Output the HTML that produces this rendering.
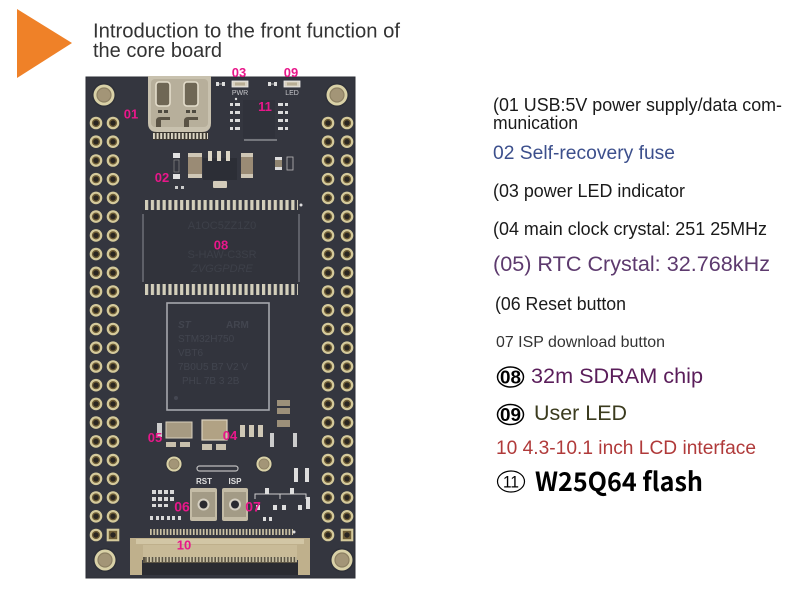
<!DOCTYPE html>
<html>
<head>
<meta charset="utf-8">
<style>
html,body{margin:0;padding:0;background:#fff;}
svg{display:block;}
text{font-family:"Liberation Sans",Arial,sans-serif;}
</style>
</head>
<body>
<svg width="790" height="600" viewBox="0 0 790 600" xmlns="http://www.w3.org/2000/svg">
<defs>
  <g id="pin">
    <circle r="6.3" fill="#d5ca9b"/>
    <circle r="4.1" fill="#6e5d36"/>
    <circle r="2.7" fill="#2a2622"/>
  </g>
  <g id="sqpin">
    <rect x="-6.3" y="-6.3" width="12.6" height="12.6" fill="#d5ca9b"/>
    <rect x="-4.2" y="-4.2" width="8.4" height="8.4" fill="#6e5d36"/>
    <circle r="2.7" fill="#2a2622"/>
  </g>
  <g id="mh">
    <circle r="12" fill="#2e3038"/>
    <circle r="10.5" fill="#d9d1a7"/>
    <circle r="7.6" fill="#8d8063"/>
    <circle r="6.4" fill="#a39577"/>
  </g>
  <g id="col">
    <use href="#pin" y="123"/><use href="#pin" y="141.7"/><use href="#pin" y="160.5"/>
    <use href="#pin" y="179.2"/><use href="#pin" y="197.9"/><use href="#pin" y="216.6"/>
    <use href="#pin" y="235.4"/><use href="#pin" y="254.1"/><use href="#pin" y="272.8"/>
    <use href="#pin" y="291.5"/><use href="#pin" y="310.3"/><use href="#pin" y="329"/>
    <use href="#pin" y="347.7"/><use href="#pin" y="366.5"/><use href="#pin" y="385.2"/>
    <use href="#pin" y="403.9"/><use href="#pin" y="422.6"/><use href="#pin" y="441.4"/>
    <use href="#pin" y="460.1"/><use href="#pin" y="478.8"/><use href="#pin" y="497.5"/>
    <use href="#pin" y="516.3"/>
  </g>
  <pattern id="sdp" x="145" y="0" width="5.85" height="20" patternUnits="userSpaceOnUse">
    <rect x="0" y="0" width="3.2" height="20" fill="#d3cfbb"/>
  </pattern>
  <pattern id="fpcp" x="150" y="0" width="3.3" height="20" patternUnits="userSpaceOnUse">
    <rect x="0" y="0" width="1.7" height="20" fill="#cdc4a6"/>
  </pattern>
  <pattern id="usbp" x="153" y="0" width="3.6" height="20" patternUnits="userSpaceOnUse">
    <rect x="0" y="0" width="2" height="20" fill="#dcd6c4"/>
  </pattern>
</defs>

<rect width="790" height="600" fill="#fff"/>

<!-- orange triangle -->
<polygon points="17,9 17,78 72,43" fill="#ef8128"/>

<!-- title -->
<text x="93" y="37.5" font-size="20" fill="#333" textLength="307" lengthAdjust="spacingAndGlyphs">Introduction to the front function of</text>
<text x="93" y="57" font-size="20" fill="#333">the core board</text>

<!-- ============ BOARD ============ -->
<rect x="86" y="77" width="269" height="501" fill="#34363f"/>
<rect x="86" y="77" width="269" height="501" fill="none" stroke="#2b2d35" stroke-width="1"/>

<!-- pin headers -->
<use href="#col" x="96"/>
<use href="#col" x="113"/>
<use href="#col" x="328"/>
<use href="#col" x="347"/>
<use href="#pin" x="96" y="535"/>
<use href="#sqpin" x="113" y="535"/>
<use href="#pin" x="328" y="535"/>
<use href="#sqpin" x="347" y="535"/>

<!-- mounting holes -->
<use href="#mh" x="104" y="95"/>
<use href="#mh" x="337" y="95"/>
<use href="#mh" x="105" y="560"/>
<use href="#mh" x="342" y="560"/>
<g transform="translate(174,464) scale(0.72)"><use href="#mh"/></g>
<g transform="translate(264,464) scale(0.72)"><use href="#mh"/></g>

<!-- USB-C -->
<path d="M148,76 H211 V123 Q211,132 202,132 H157 Q148,132 148,123 Z" fill="#c8c1ae"/>
<rect x="151" y="79" width="57" height="48" rx="4" fill="#b7af9b"/>
<rect x="156" y="82" width="14" height="24" rx="3" fill="#6f6755" stroke="#e4ddcb" stroke-width="1.6"/>
<rect x="184" y="82" width="14" height="24" rx="3" fill="#6f6755" stroke="#e4ddcb" stroke-width="1.6"/>
<rect x="158" y="110" width="4" height="3" fill="#4e4a40"/>
<rect x="164" y="110" width="4" height="3" fill="#4e4a40"/>
<rect x="186" y="110" width="4" height="3" fill="#4e4a40"/>
<rect x="192" y="110" width="4" height="3" fill="#4e4a40"/>
<path d="M156,127 V121 Q156,117 160,117 H170 V120 H161 V127 Z" fill="#5a5345"/>
<path d="M184,127 V121 Q184,117 188,117 H198 V120 H189 V127 Z" fill="#5a5345"/>
<rect x="153" y="132" width="55" height="8" fill="#3a3630"/>
<rect x="153" y="133" width="55" height="6" fill="url(#usbp)"/>

<!-- LED 03 / 09 -->
<rect x="216" y="82" width="3" height="4" fill="#ddd"/><rect x="222" y="82" width="3" height="4" fill="#ddd"/>
<rect x="219" y="83.5" width="3" height="1" fill="#aaa"/>
<rect x="232" y="81" width="16" height="6" fill="#d9d2c2" stroke="#eee" stroke-width="0.8"/>
<rect x="235" y="82.5" width="10" height="3" fill="#b8ad94"/>
<text x="240" y="95" font-size="7" fill="#c8c8cc" text-anchor="middle">PWR</text>
<circle cx="236" cy="99" r="1.2" fill="#ddd"/>
<rect x="268" y="82" width="3" height="4" fill="#ddd"/><rect x="274" y="82" width="3" height="4" fill="#ddd"/>
<rect x="271" y="83.5" width="3" height="1" fill="#aaa"/>
<rect x="284" y="81" width="16" height="6" fill="#d9d2c2" stroke="#eee" stroke-width="0.8"/>
<rect x="287" y="82.5" width="10" height="3" fill="#b8ad94"/>
<text x="292" y="95" font-size="7" fill="#c8c8cc" text-anchor="middle">LED</text>

<!-- flash chip 11 -->
<rect x="243" y="100" width="32" height="38" fill="#30323b"/>
<g fill="#dcdcdc">
  <rect x="230" y="103" width="3" height="3"/><rect x="235" y="103" width="5" height="3"/>
  <rect x="230" y="111" width="3" height="3"/><rect x="235" y="111" width="5" height="3"/>
  <rect x="230" y="119" width="3" height="3"/><rect x="235" y="119" width="5" height="3"/>
  <rect x="230" y="127" width="3" height="3"/><rect x="235" y="127" width="5" height="3"/>
  <rect x="278" y="103" width="5" height="3"/><rect x="285" y="103" width="3" height="3"/>
  <rect x="278" y="111" width="5" height="3"/><rect x="285" y="111" width="3" height="3"/>
  <rect x="278" y="119" width="5" height="3"/><rect x="285" y="119" width="3" height="3"/>
  <rect x="278" y="127" width="5" height="3"/><rect x="285" y="127" width="3" height="3"/>
</g>
<line x1="244" y1="140" x2="277" y2="140" stroke="#b5b5b8" stroke-width="1"/>

<!-- regulator / fuse area 02 -->
<rect x="173" y="153" width="7" height="5" fill="#e2e2e2"/>
<rect x="173" y="174" width="7" height="5" fill="#e2e2e2"/>
<rect x="174" y="160" width="5" height="12" fill="none" stroke="#888" stroke-width="0.7"/>
<rect x="175" y="186" width="3" height="3" fill="#ccc"/><rect x="181" y="186" width="3" height="3" fill="#ccc"/>
<rect x="188" y="153" width="14" height="25" rx="1.5" fill="#9a8b75"/>
<rect x="188" y="153" width="14" height="4" fill="#cfc7b6"/><rect x="188" y="174" width="14" height="4" fill="#cfc7b6"/>
<rect x="203" y="158" width="34" height="22" fill="#2c2e36"/>
<rect x="208" y="151" width="4" height="10" fill="#dcd6c6"/>
<rect x="217" y="151" width="4" height="10" fill="#dcd6c6"/>
<rect x="226" y="151" width="4" height="10" fill="#dcd6c6"/>
<rect x="213" y="181" width="14" height="7" rx="1" fill="#d3ccbb"/>
<rect x="241" y="153" width="12" height="25" rx="1.5" fill="#9a8b75"/>
<rect x="241" y="153" width="12" height="4" fill="#cfc7b6"/><rect x="241" y="174" width="12" height="4" fill="#cfc7b6"/>
<rect x="275" y="157" width="7" height="13" fill="#8f8470"/>
<rect x="275" y="157" width="7" height="3" fill="#ddd"/><rect x="275" y="167" width="7" height="3" fill="#ddd"/>
<rect x="287" y="157" width="6" height="13" fill="none" stroke="#bbb" stroke-width="0.8"/>

<!-- SDRAM 08 -->
<rect x="145" y="200" width="153" height="10" fill="url(#sdp)"/>
<rect x="142" y="210" width="158" height="74" fill="#31333b"/>
<line x1="143" y1="214" x2="143" y2="282" stroke="#8b8d96" stroke-width="1"/>
<line x1="299" y1="214" x2="299" y2="282" stroke="#8b8d96" stroke-width="1"/>
<rect x="145" y="284" width="153" height="11" fill="url(#sdp)"/>
<circle cx="301" cy="205" r="1.5" fill="#ddd"/>
<g font-size="11" fill="#3d4049" text-anchor="middle">
  <text x="222" y="229">A1OC5ZZ1Z0</text>
  <text x="222" y="258">S-HAW-C3SR</text>
  <text x="222" y="272" font-style="italic">ZVGGPDRE</text>
</g>

<!-- MCU -->
<rect x="167" y="303" width="102" height="107" fill="#32343d" stroke="#a6a7ad" stroke-width="1.6"/>
<g font-size="10" fill="#42454f">
  <text x="178" y="328" font-weight="bold" font-style="italic">ST</text>
  <text x="226" y="328" font-weight="bold">ARM</text>
  <text x="178" y="342">STM32H750</text>
  <text x="178" y="356">VBT6</text>
  <text x="178" y="370">7B0U5 B7 V2 V</text>
  <text x="182" y="384">PHL 7B 3 2B</text>
</g>
<circle cx="176" cy="398" r="2" fill="#444752"/>

<!-- components right of MCU -->
<rect x="277" y="400" width="13" height="6" fill="#9c907a"/><rect x="277" y="408" width="13" height="6" fill="#9c907a"/>
<rect x="277" y="420" width="13" height="7" fill="#9c907a"/>
<rect x="270" y="433" width="4" height="14" fill="#ccc"/><rect x="293" y="433" width="4" height="14" fill="#ccc"/>

<!-- crystals 05 & 04 -->
<rect x="157" y="423" width="5" height="14" fill="#ccc"/>
<rect x="166" y="422" width="26" height="16" fill="#a69a82" stroke="#d8d0bd" stroke-width="1"/>
<rect x="166" y="442" width="10" height="5" fill="#c8c0ad"/><rect x="180" y="442" width="10" height="5" fill="#c8c0ad"/>
<rect x="202" y="420" width="25" height="20" fill="#b1a284" stroke="#dcd3bf" stroke-width="1.2"/>
<rect x="202" y="444" width="10" height="6" fill="#c8c0ad"/><rect x="216" y="444" width="10" height="6" fill="#c8c0ad"/>
<rect x="240" y="425" width="5" height="12" fill="#cfc8b6"/><rect x="249" y="425" width="5" height="12" fill="#cfc8b6"/><rect x="258" y="425" width="5" height="12" fill="#cfc8b6"/>

<!-- slot + silkscreen -->
<rect x="197" y="466" width="41" height="5" rx="2.5" fill="none" stroke="#bdbdbd" stroke-width="1.2"/>
<text x="204" y="484" font-size="8" font-weight="bold" fill="#e0e0e0" text-anchor="middle">RST</text>
<text x="235" y="484" font-size="8" font-weight="bold" fill="#e0e0e0" text-anchor="middle">ISP</text>

<!-- buttons -->
<rect x="190" y="488" width="27" height="33" rx="2" fill="#c4bca6"/>
<rect x="192" y="492" width="23" height="25" fill="#a39b86"/>
<circle cx="203.5" cy="504.5" r="6" fill="#d6d0c2"/><circle cx="203.5" cy="504.5" r="4" fill="#2a2a30"/>
<rect x="222" y="488" width="26" height="33" rx="2" fill="#c4bca6"/>
<rect x="224" y="492" width="22" height="25" fill="#a39b86"/>
<circle cx="235" cy="504.5" r="6" fill="#d6d0c2"/><circle cx="235" cy="504.5" r="4" fill="#2a2a30"/>

<!-- small parts left of buttons -->
<g fill="#d8d8d8">
  <rect x="152" y="490" width="4" height="4"/><rect x="158" y="490" width="4" height="4"/><rect x="164" y="490" width="4" height="4"/><rect x="170" y="490" width="4" height="4"/>
  <rect x="152" y="497" width="4" height="4"/><rect x="158" y="497" width="4" height="4"/><rect x="164" y="497" width="4" height="4"/><rect x="170" y="497" width="4" height="4"/>
  <rect x="152" y="504" width="4" height="3"/><rect x="158" y="504" width="4" height="3"/><rect x="164" y="504" width="4" height="3"/>
  <rect x="150" y="516" width="3" height="4"/><rect x="156" y="516" width="3" height="4"/>
  <rect x="161" y="516" width="3" height="4"/><rect x="167" y="516" width="3" height="4"/>
  <rect x="172" y="516" width="3" height="4"/><rect x="178" y="516" width="3" height="4"/>
</g>
<!-- transistors right -->
<g fill="none" stroke="#cfcfcf" stroke-width="1">
  <path d="M255,499 V494 H280 V499"/>
  <path d="M280,499 V494 H306 V499"/>
</g>
<g fill="#dedede">
  <rect x="265" y="488" width="4" height="6"/><rect x="290" y="488" width="4" height="6"/>
  <rect x="256" y="505" width="4" height="5"/><rect x="273" y="505" width="4" height="5"/>
  <rect x="282" y="505" width="4" height="5"/><rect x="298" y="505" width="4" height="5"/>
  <rect x="263" y="517" width="3" height="4"/><rect x="269" y="517" width="3" height="4"/>
  <rect x="294" y="468" width="4" height="14"/><rect x="305" y="468" width="4" height="14"/>
  <rect x="306" y="497" width="4" height="12"/>
</g>

<!-- FPC connector 10 -->
<rect x="150" y="529" width="143" height="6" fill="url(#fpcp)"/>
<circle cx="294" cy="532" r="1.5" fill="#ddd"/>
<path d="M130,538 H310 V575 H298 V560 H142 V575 H130 Z" fill="#bfb08c"/>
<rect x="136" y="539" width="168" height="5" fill="#d2c6a5"/>
<rect x="143" y="545" width="154" height="12" fill="#c9bb98"/>
<rect x="143" y="557" width="154" height="6" fill="#5b5444"/>
<rect x="145" y="557" width="152" height="5" fill="url(#fpcp)"/>
<rect x="142" y="563" width="156" height="12" fill="#2a2b31"/>

<!-- pink labels -->
<g font-family="Liberation Sans,Arial,sans-serif" font-weight="bold" font-size="13" fill="#e8178a" text-anchor="middle">
  <text x="131" y="118.5">01</text>
  <text x="162" y="182">02</text>
  <text x="239" y="77">03</text>
  <text x="291" y="77">09</text>
  <text x="265" y="111">11</text>
  <text x="221" y="249.5">08</text>
  <text x="155" y="442">05</text>
  <text x="230" y="440">04</text>
  <text x="182" y="511.5" font-size="14">06</text>
  <text x="253" y="511.5" font-size="14">07</text>
  <text x="184" y="549.5">10</text>
</g>

<!-- ============ RIGHT TEXT ============ -->
<text x="493" y="111" font-size="18" fill="#1a1a1a" textLength="289" lengthAdjust="spacingAndGlyphs">(01 USB:5V power supply/data com-</text>
<text x="493" y="129" font-size="18" fill="#1a1a1a" textLength="85" lengthAdjust="spacingAndGlyphs">munication</text>
<text x="493" y="159" font-size="19" fill="#3c4f8c" textLength="182" lengthAdjust="spacingAndGlyphs">02 Self-recovery fuse</text>
<text x="493" y="197" font-size="18" fill="#1a1a1a" textLength="192" lengthAdjust="spacingAndGlyphs">(03 power LED indicator</text>
<text x="493" y="235" font-size="18" fill="#1a1a1a" textLength="274" lengthAdjust="spacingAndGlyphs">(04 main clock crystal: 251 25MHz</text>
<text x="493" y="271" font-size="21.5" fill="#5d3a6e" textLength="277" lengthAdjust="spacingAndGlyphs">(05) RTC Crystal: 32.768kHz</text>
<text x="495" y="310" font-size="18" fill="#1a1a1a" textLength="131" lengthAdjust="spacingAndGlyphs">(06 Reset button</text>
<text x="496" y="347" font-size="16" fill="#333" textLength="169" lengthAdjust="spacingAndGlyphs">07 ISP download button</text>

<ellipse cx="510.5" cy="377" rx="13" ry="10" fill="none" stroke="#000" stroke-width="1.5"/>
<text x="510.5" y="383.5" font-size="18" font-weight="bold" fill="#000" text-anchor="middle" textLength="21" lengthAdjust="spacingAndGlyphs">08</text>
<text x="531" y="383" font-size="21" fill="#5a1d5a" textLength="172" lengthAdjust="spacingAndGlyphs">32m SDRAM chip</text>

<ellipse cx="510.5" cy="414.5" rx="13" ry="10" fill="none" stroke="#000" stroke-width="1.5"/>
<text x="510.5" y="421" font-size="18" font-weight="bold" fill="#000" text-anchor="middle" textLength="21" lengthAdjust="spacingAndGlyphs">09</text>
<text x="534" y="420" font-size="21" fill="#3b3b1e" textLength="93" lengthAdjust="spacingAndGlyphs">User LED</text>

<text x="496" y="454" font-size="19" fill="#b03a3a" textLength="260" lengthAdjust="spacingAndGlyphs">10 4.3-10.1 inch LCD interface</text>

<ellipse cx="511" cy="481.5" rx="13.5" ry="10.5" fill="none" stroke="#000" stroke-width="1.2"/>
<text x="511" y="487.5" font-size="17" fill="#000" text-anchor="middle" textLength="16" lengthAdjust="spacingAndGlyphs">11</text>
<text x="535" y="491" font-size="26" font-weight="bold" fill="#000" style="font-family:'Noto Sans CJK SC','Liberation Sans',sans-serif" textLength="168" lengthAdjust="spacingAndGlyphs">W25Q64 flash</text>
</svg>
</body>
</html>
